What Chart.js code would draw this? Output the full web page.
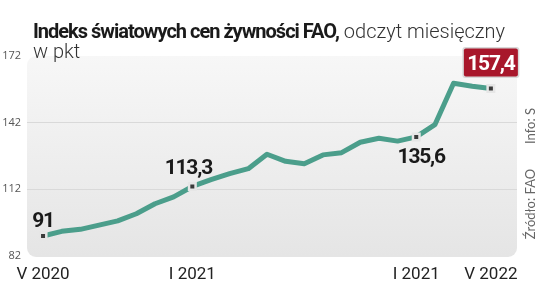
<!DOCTYPE html>
<html lang="pl">
<head>
<meta charset="utf-8">
<script src="https://cdn.jsdelivr.net/npm/chart.js@4/dist/chart.umd.min.js"></script>
<style>
html, body { margin: 0; padding: 0; background: #fff; }
#wrap { position: relative; width: 536px; height: 293px; overflow: hidden; }
#wrap canvas { position: absolute; left: 0; top: 0; }
.title { position: absolute; left: 33px; top: 21px; font-family: Roboto, sans-serif; font-size: 20px; line-height: 20px; color: #1a1a1a; white-space: nowrap; }
.title b { font-weight: 700; letter-spacing: -1px; }
.title .reg { font-weight: 300; color: #333; }
.side { position: absolute; font-family: Lato, sans-serif; font-size: 13px; color: #666; white-space: nowrap; transform: translate(-50%, -50%) rotate(-90deg); }
</style>
</head>
<body>
<div id="wrap">
  <canvas id="foodChart" width="536" height="293"></canvas>
  <div class="title"><b>Indeks światowych cen żywności FAO,</b> <span class="reg">odczyt miesięczny</span><br><span class="reg">w pkt</span></div>
  <div class="side" style="left:530px; top:126px;">Info: S</div>
  <div class="side" style="left:530px; top:204px;">Źródło: FAO</div>
</div>
<script>
// miesiące V 2020 - V 2022
const months = ['V 2020', 'VI 2020', 'VII 2020', 'VIII 2020', 'IX 2020', 'X 2020', 'XI 2020', 'XII 2020',
    'I 2021', 'II 2021', 'III 2021', 'IV 2021', 'V 2021', 'VI 2021', 'VII 2021', 'VIII 2021', 'IX 2021',
    'X 2021', 'XI 2021', 'XII 2021', 'I 2022', 'II 2022', 'III 2022', 'IV 2022', 'V 2022'];
const faoIndex = [91.0, 93.1, 94.0, 95.9, 97.8, 101.0, 105.5, 108.6, 113.3, 116.4, 119.1, 121.3, 127.8,
    124.6, 123.5, 127.5, 128.5, 133.2, 135.0, 133.7, 135.6, 141.1, 159.7, 158.4, 157.4];
const tickIdx = [0, 8, 20, 24];
const tickLabels = ['V 2020', 'I 2021', 'I 2021', 'V 2022'];
const yTicks = [82, 112, 142, 172];
const markIdx = [0, 8, 20, 24];

const lineColor = '#4b9e8b';
const labelFont = 'bold 21px Roboto, sans-serif';

function fmt(v) {
    return String(v).replace('.', ',');
}

// tło obszaru wykresu
const plotBg = {
    id: 'plotBg',
    beforeDraw(chart) {
        const { ctx, chartArea: a } = chart;
        const g = ctx.createLinearGradient(0, a.top, 0, a.bottom);
        g.addColorStop(0, '#f7f7f7');
        g.addColorStop(1, '#e5e5e5');
        ctx.save();
        ctx.fillStyle = g;
        ctx.beginPath();
        ctx.roundRect(a.left, a.top, a.right - a.left, a.bottom - a.top + 1, 9);
        ctx.fill();
        ctx.restore();
    }
};

// podpisy wartości
const valueLabels = {
    id: 'valueLabels',
    afterDatasetsDraw(chart) {
        const { ctx } = chart;
        const pts = chart.getDatasetMeta(0).data;
        ctx.save();
        ctx.font = labelFont;
        ctx.letterSpacing = '-1.2px';
        ctx.textAlign = 'center';
        ctx.textBaseline = 'alphabetic';
        markIdx.forEach(function(i, n) {
            const p = pts[i];
            const txt = fmt(faoIndex[i]);
            if (n === markIdx.length - 1) {
                const w = 54, h = 28;
                const bx = p.x - w / 2, by = p.y - 12 - h;
                ctx.fillStyle = '#d8d8d8';
                ctx.beginPath();
                ctx.roundRect(bx - 1.5, by - 1.5, w + 3, h + 3, 3);
                ctx.fill();
                ctx.fillStyle = '#a8172b';
                ctx.beginPath();
                ctx.roundRect(bx, by, w, h, 2);
                ctx.fill();
                ctx.fillStyle = '#fff';
                ctx.fillText(txt, p.x, by + 21.5);
            } else {
                ctx.fillStyle = '#1a1a1a';
                if (n === 0) ctx.fillText(txt, p.x, p.y - 9);
                else if (n === 1) ctx.fillText(txt, p.x - 4, p.y - 12);
                else ctx.fillText(txt, p.x + 5, p.y + 26);
            }
        });
        ctx.restore();
    }
};

new Chart(document.getElementById('foodChart'), {
    type: 'line',
    data: {
        datasets: [{
            data: faoIndex.map(function(v, i) { return { x: i, y: v }; }),
            borderColor: lineColor,
            borderWidth: 5,
            tension: 0,
            borderJoinStyle: 'round',
            borderCapStyle: 'round',
            pointStyle: 'rect',
            pointRadius: function(c) { return markIdx.includes(c.dataIndex) ? 4.6 : 0; },
            pointBackgroundColor: '#3a3a3a',
            pointBorderColor: '#e6e6e6',
            pointBorderWidth: 2.5
        }]
    },
    options: {
        responsive: false,
        animation: false,
        layout: { padding: { top: 56, right: 19, left: 0, bottom: 0 } },
        plugins: { legend: { display: false }, tooltip: { enabled: false } },
        scales: {
            x: {
                type: 'linear',
                min: -0.86,
                max: 25.4,
                afterBuildTicks: function(s) { s.ticks = tickIdx.map(function(v) { return { value: v }; }); },
                afterFit: function(s) { s.height = 37; },
                ticks: {
                    autoSkip: false,
                    maxRotation: 0,
                    padding: 1,
                    color: '#222',
                    font: { family: 'Roboto', size: 17 },
                    callback: function(v) { return tickLabels[tickIdx.indexOf(v)]; }
                },
                grid: { display: false },
                border: { display: false }
            },
            y: {
                min: 82,
                max: 172,
                afterBuildTicks: function(s) { s.ticks = yTicks.map(function(v) { return { value: v }; }); },
                afterFit: function(s) { s.width = 27; },
                ticks: {
                    padding: 6,
                    color: '#555',
                    font: { family: 'Open Sans', size: 11 }
                },
                grid: {
                    drawTicks: false,
                    color: function(c) { return (c.tick && (c.tick.value === 112 || c.tick.value === 142)) ? '#d9d9d9' : 'rgba(0,0,0,0)'; }
                },
                border: { display: false }
            }
        }
    },
    plugins: [plotBg, valueLabels]
});
</script>
</body>
</html>
